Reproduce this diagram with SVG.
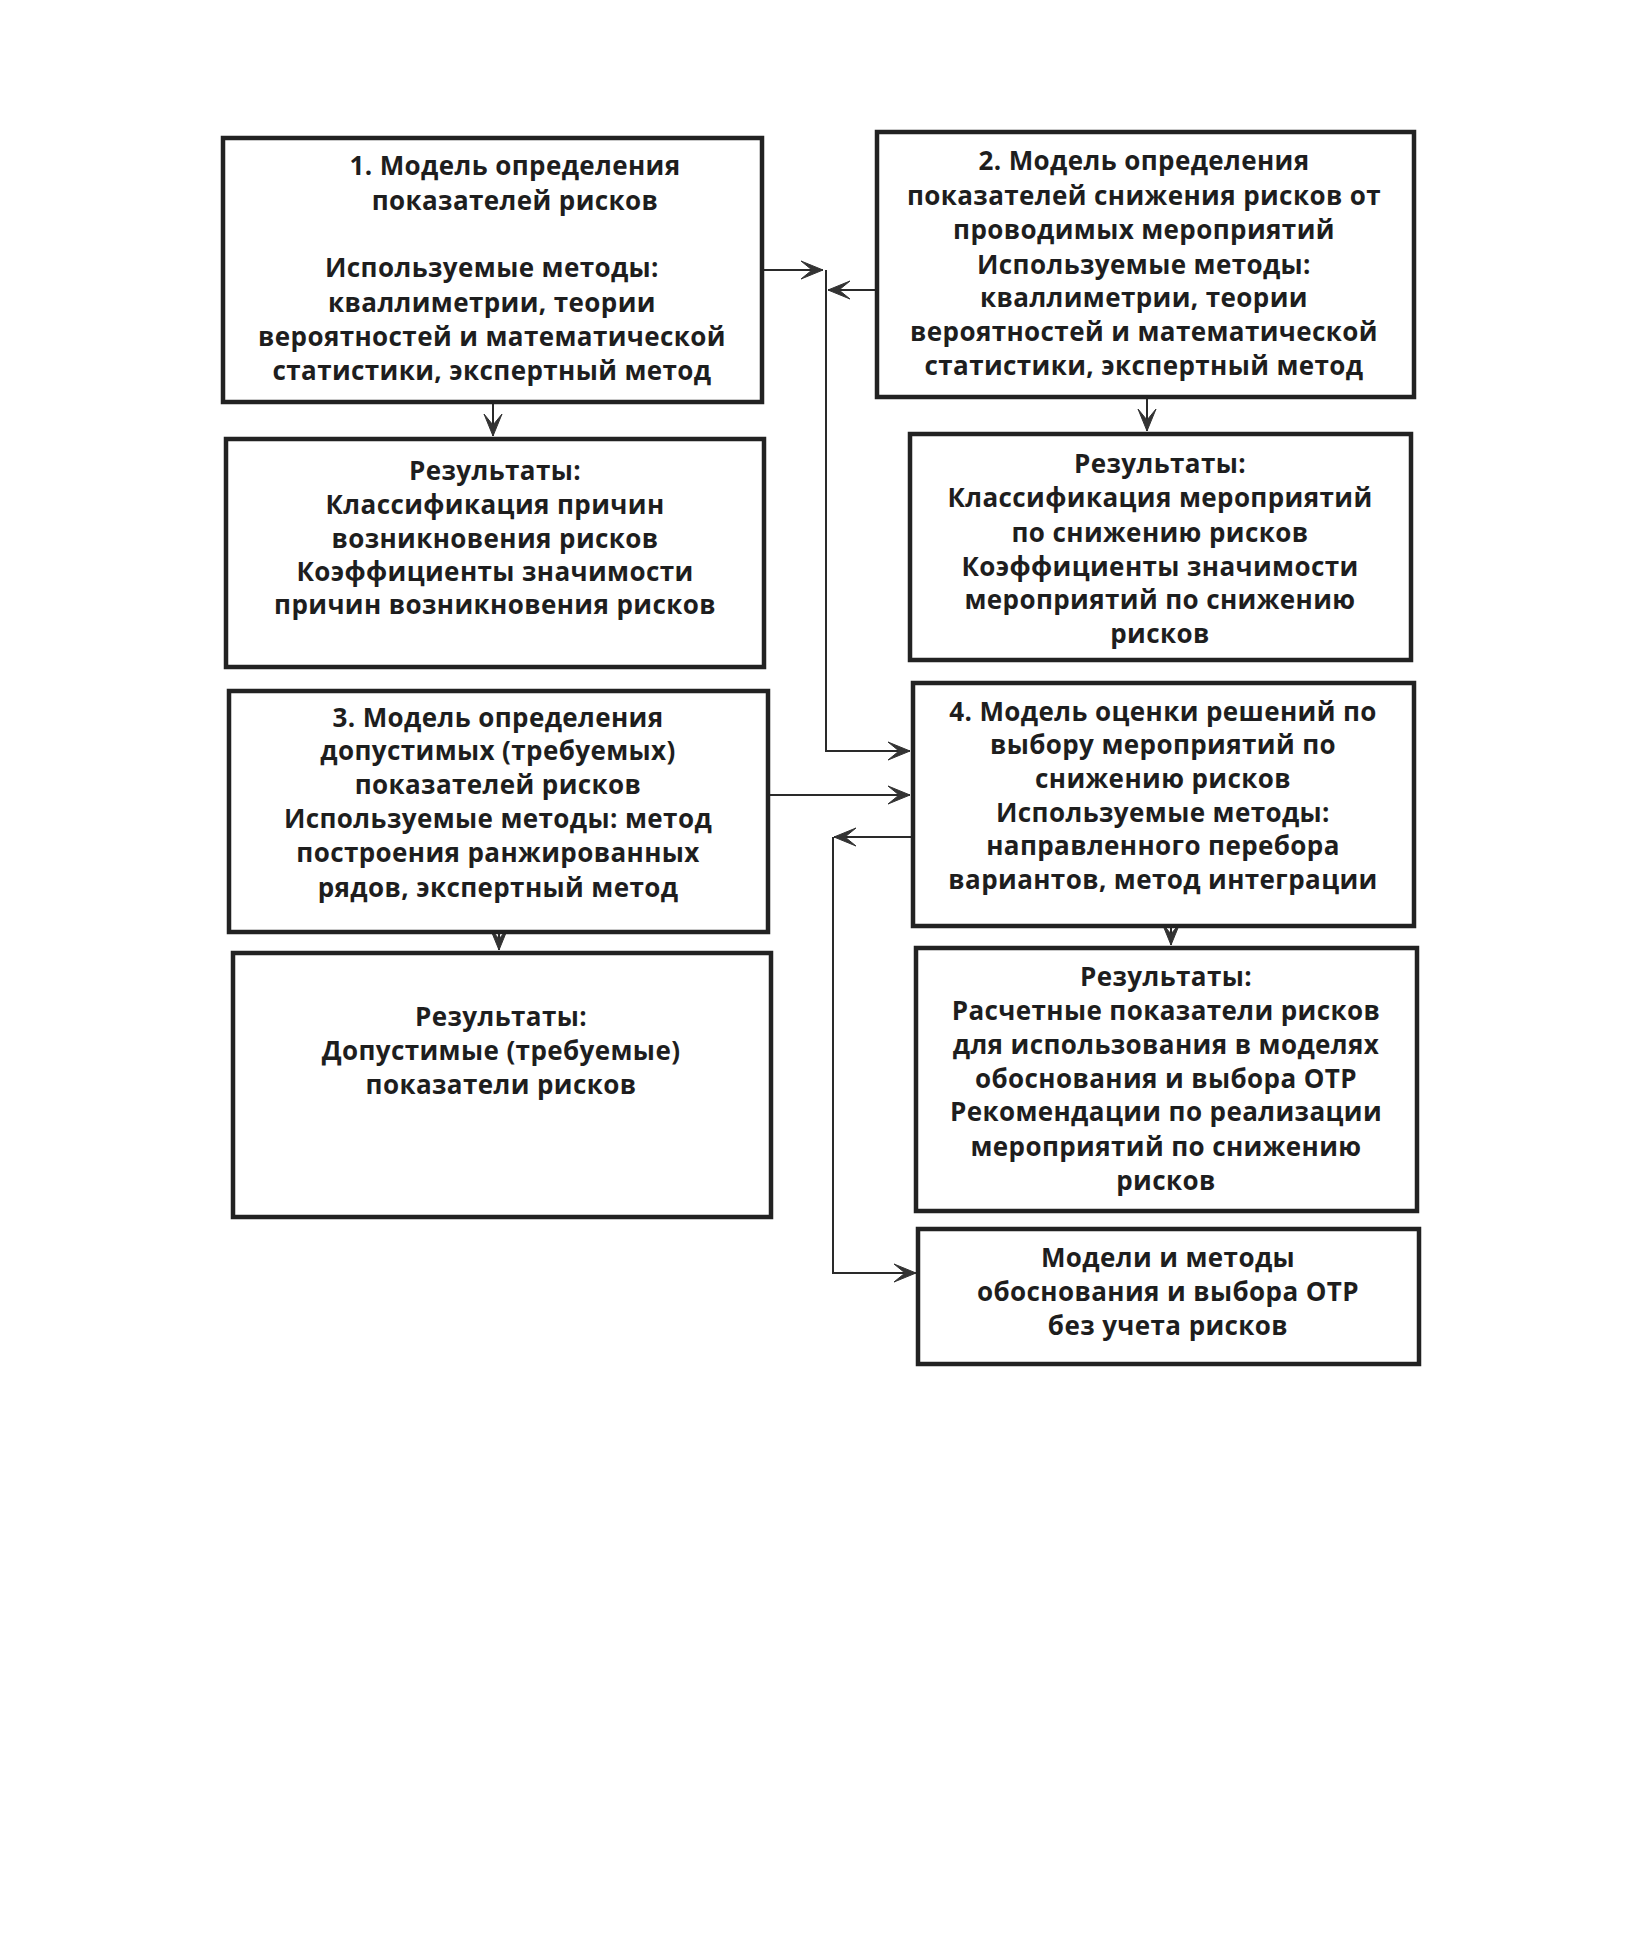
<svg xmlns="http://www.w3.org/2000/svg" width="1644" height="1958" viewBox="0 0 1644 1958">
<style>
.box{fill:#fff;stroke:#222;stroke-width:4.5}
.t{font-family:"Open Sans","Noto Sans","DejaVu Sans",sans-serif;font-weight:700;font-size:26px;letter-spacing:0.4px;fill:#1e1e1e;text-anchor:middle}
.c{fill:none;stroke:#2a2a2a;stroke-width:2}
</style>
<defs>
<marker id="ah" markerUnits="userSpaceOnUse" markerWidth="26" markerHeight="22" viewBox="-24 -11 26 22" refX="0" refY="0" orient="auto">
<path d="M0,0 L-22,-9 L-11,0 L-22,9 Z" fill="#333" stroke="#333" stroke-width="1" stroke-linejoin="miter"/>
</marker>
</defs>
<rect width="1644" height="1958" fill="#fff"/>

<g id="connectors">
<path class="c" d="M761,270 H823" marker-end="url(#ah)"/>
<path class="c" d="M877,290 H828" marker-end="url(#ah)"/>
<path class="c" d="M826,270 V751 H910" marker-end="url(#ah)"/>
<path class="c" d="M767,795 H910" marker-end="url(#ah)"/>
<path class="c" d="M912,837 H834" marker-end="url(#ah)"/>
<path class="c" d="M833,837 V1273 H916" marker-end="url(#ah)"/>
<path class="c" d="M493,403 V436" marker-end="url(#ah)"/>
<path class="c" d="M1147,398 V431" marker-end="url(#ah)"/>
<path class="c" d="M499,933 V950" marker-end="url(#ah)"/>
<path class="c" d="M1171,927 V945" marker-end="url(#ah)"/>
</g>

<g id="node1">
<rect class="box" x="223" y="138" width="539" height="264"/>
<text class="t" x="515" y="175">1. Модель определения</text>
<text class="t" x="515" y="210">показателей рисков</text>
<text class="t" x="492" y="277">Используемые методы:</text>
<text class="t" x="492" y="312">кваллиметрии, теории</text>
<text class="t" x="492" y="346">вероятностей и математической</text>
<text class="t" x="492" y="380">статистики, экспертный метод</text>
</g>

<g id="node2">
<rect class="box" x="877" y="132" width="537" height="265"/>
<text class="t" x="1144" y="170">2. Модель определения</text>
<text class="t" x="1144" y="205">показателей снижения рисков от</text>
<text class="t" x="1144" y="239">проводимых мероприятий</text>
<text class="t" x="1144" y="274">Используемые методы:</text>
<text class="t" x="1144" y="307">кваллиметрии, теории</text>
<text class="t" x="1144" y="341">вероятностей и математической</text>
<text class="t" x="1144" y="375">статистики, экспертный метод</text>
</g>

<g id="result1">
<rect class="box" x="226" y="439" width="538" height="228"/>
<text class="t" x="495" y="480">Результаты:</text>
<text class="t" x="495" y="514">Классификация причин</text>
<text class="t" x="495" y="548">возникновения рисков</text>
<text class="t" x="495" y="581">Коэффициенты значимости</text>
<text class="t" x="495" y="614">причин возникновения рисков</text>
</g>

<g id="result2">
<rect class="box" x="910" y="434" width="501" height="226"/>
<text class="t" x="1160" y="473">Результаты:</text>
<text class="t" x="1160" y="507">Классификация мероприятий</text>
<text class="t" x="1160" y="542">по снижению рисков</text>
<text class="t" x="1160" y="576">Коэффициенты значимости</text>
<text class="t" x="1160" y="609">мероприятий по снижению</text>
<text class="t" x="1160" y="643">рисков</text>
</g>

<g id="node3">
<rect class="box" x="229" y="691" width="539" height="241"/>
<text class="t" x="498" y="727">3. Модель определения</text>
<text class="t" x="498" y="760">допустимых (требуемых)</text>
<text class="t" x="498" y="794">показателей рисков</text>
<text class="t" x="498" y="828">Используемые методы: метод</text>
<text class="t" x="498" y="862">построения ранжированных</text>
<text class="t" x="498" y="897">рядов, экспертный метод</text>
</g>

<g id="node4">
<rect class="box" x="913" y="683" width="501" height="243"/>
<text class="t" x="1163" y="721">4. Модель оценки решений по</text>
<text class="t" x="1163" y="754">выбору мероприятий по</text>
<text class="t" x="1163" y="788">снижению рисков</text>
<text class="t" x="1163" y="822">Используемые методы:</text>
<text class="t" x="1163" y="855">направленного перебора</text>
<text class="t" x="1163" y="889">вариантов, метод интеграции</text>
</g>

<g id="result3">
<rect class="box" x="233" y="953" width="538" height="264"/>
<text class="t" x="501" y="1026">Результаты:</text>
<text class="t" x="501" y="1060">Допустимые (требуемые)</text>
<text class="t" x="501" y="1094">показатели рисков</text>
</g>

<g id="result4">
<rect class="box" x="916" y="948" width="501" height="263"/>
<text class="t" x="1166" y="986">Результаты:</text>
<text class="t" x="1166" y="1020">Расчетные показатели рисков</text>
<text class="t" x="1166" y="1054">для использования в моделях</text>
<text class="t" x="1166" y="1088">обоснования и выбора ОТР</text>
<text class="t" x="1166" y="1121">Рекомендации по реализации</text>
<text class="t" x="1166" y="1156">мероприятий по снижению</text>
<text class="t" x="1166" y="1190">рисков</text>
</g>

<g id="node5">
<rect class="box" x="918" y="1229" width="501" height="135"/>
<text class="t" x="1168" y="1267">Модели и методы</text>
<text class="t" x="1168" y="1301">обоснования и выбора ОТР</text>
<text class="t" x="1168" y="1335">без учета рисков</text>
</g>
</svg>
